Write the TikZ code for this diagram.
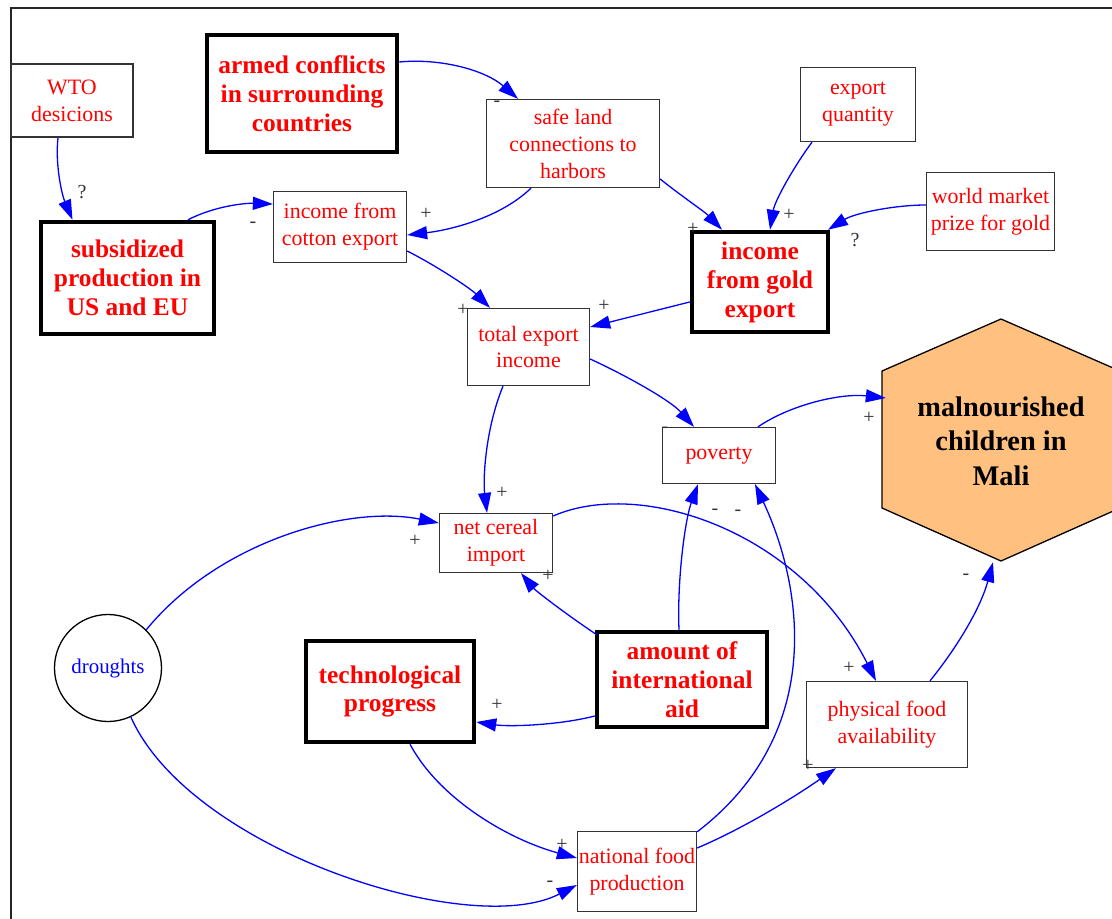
\documentclass[tikz,border=0pt]{standalone}
\usepackage{fontspec}
\setmainfont{Liberation Serif}
\usetikzlibrary{arrows.meta,calc}
\newcommand\regf{\fontsize{22}{27}\selectfont}
\newcommand\boldf{\bfseries\fontsize{25.5}{29}\selectfont}
\newcommand\malf{\bfseries\fontsize{28.5}{34.5}\selectfont}
\newcommand\labf{\fontsize{20}{22}\selectfont}
\definecolor{hexfill}{HTML}{FFC080}
\definecolor{edgeblue}{HTML}{0000FF}
\begin{document}
\begin{tikzpicture}[x=1bp,y=-1bp,
 box/.style={draw=black!80, line width=1.3bp, inner sep=0pt, align=center, text=red, font=\regf},
 bigbox/.style={box, draw=black, line width=4.5bp, font=\boldf},
 link/.style={draw=edgeblue, line width=1.3bp, -{Triangle[length=20bp,width=13bp]}},
 sign/.style={font=\labf, text=black!80, inner sep=0pt}]
\useasboundingbox (0,0) rectangle (1112,919);
% frame
\draw[line width=2bp, black!85] (11,930) -- (11,8) -- (1120,8);
% hexagon
\filldraw[fill=hexfill, draw=black, line width=1.3bp] (1001,319) -- (1120,371) -- (1120,508) -- (1001,561) -- (882,508) -- (882,371) -- cycle;
\node[font=\malf, align=center, minimum width=238bp, minimum height=242bp, inner sep=0pt] (mal) at (1001,441) {malnourished\\children in\\Mali};
% nodes
\node[box, minimum width=122bp, minimum height=73bp] (wto) at (72,100.5) {WTO\\desicions};
\node[bigbox, minimum width=190bp, minimum height=117bp] (armed) at (302,93.5) {armed conflicts\\in surrounding\\countries};
\node[bigbox, minimum width=173bp, minimum height=112bp] (subs) at (127.5,278) {subsidized\\production in\\US and EU};
\node[box, minimum width=133bp, minimum height=71bp] (cotton) at (340,227) {income from\\cotton export};
\node[box, minimum width=173bp, minimum height=88bp] (safe) at (573,143.5) {safe land\\connections to\\harbors};
\node[box, minimum width=115bp, minimum height=74bp] (expq) at (858,104.5) {export\\quantity};
\node[box, minimum width=128bp, minimum height=78bp] (world) at (990.5,211.5) {world market\\prize for gold};
\node[bigbox, minimum width=136bp, minimum height=100bp] (gold) at (760,282) {income\\from gold\\export};
\node[box, minimum width=122bp, minimum height=77bp] (total) at (528.5,347) {total export\\income};
\node[box, minimum width=113bp, minimum height=56bp] (pov) at (719,455.5) {poverty};
\node[box, minimum width=113bp, minimum height=59bp] (net) at (496,543) {net cereal\\import};
\node[draw=black, line width=1.3bp, circle, minimum size=107bp, inner sep=0pt, text=edgeblue, font=\fontsize{21}{25}\selectfont] (dr) at (108,668) {droughts};
\node[bigbox, minimum width=168bp, minimum height=101bp] (tech) at (390,691.5) {technological\\progress};
\node[bigbox, minimum width=170bp, minimum height=95bp] (aid) at (682,679.5) {amount of\\international\\aid};
\node[box, minimum width=161bp, minimum height=86bp] (phys) at (887,724.5) {physical food\\availability};
\node[box, minimum width=119bp, minimum height=80bp] (nat) at (637,871.5) {national food\\production};
% edges
\draw[link] ($(wto.south)+(-14,0)$) .. controls (55,165) and (62,195) .. ($(subs.north)+(-55,0)$);
\draw[link] ($(armed.east)+(0,-31.5)$) .. controls (440,58) and (485,70) .. ($(safe.north)+(-55,0)$);
\draw[link] ($(subs.north)+(60.5,0)$) .. controls (215,206) and (245,203) .. ($(cotton.west)+(0,-23)$);
\draw[link] ($(safe.south)+(-42,0)$) .. controls (500,218) and (450,230) .. ($(cotton.east)+(0,8)$);
\draw[link] ($(cotton.east)+(0,24)$) .. controls (435,265) and (470,288) .. ($(total.north)+(-38.5,0)$);
\draw[link] ($(safe.east)+(0,35.5)$) .. controls (680,195) and (705,212) .. ($(gold.north)+(-38,0)$);
\draw[link] ($(expq.south)+(-46,0)$) .. controls (795,165) and (775,200) .. ($(gold.north)+(10,0)$);
\draw[link] ($(world.west)+(0,-6.5)$) .. controls (895,205) and (855,213) .. ($(gold.north)+(68,0)$);
\draw[link] ($(gold.west)+(0,20)$) -- ($(total.east)+(0,-20)$);
\draw[link] ($(total.east)+(0,12)$) .. controls (625,375) and (670,400) .. ($(pov.north)+(-25,0)$);
\draw[link] ($(total.south)+(-25.5,0)$) .. controls (485,430) and (483,480) .. ($(net.north)+(-9,0)$);
\draw[link] ($(pov.north)+(39,0)$) .. controls (790,405) and (840,393) .. ($(mal.west)+(4,-43)$);
\draw[link] (dr.45) .. controls (220,540) and (350,505) .. ($(net.west)+(0,-20)$);
\draw[link] ($(net.east)+(0,-27)$) .. controls (640,478) and (800,530) .. ($(phys.north)+(-11,0)$);
\draw[link] ($(aid.north west)+(2,5)$) .. controls (560,610) and (535,590) .. ($(net.south)+(25,0)$);
\draw[link] ($(aid.north)+(-3,0)$) .. controls (677,580) and (685,520) .. ($(pov.south)+(-21,0)$);
\draw[link] ($(nat.north east)+(0,1)$) .. controls (830,730) and (800,580) .. ($(pov.south)+(36,0)$);
\draw[link] ($(aid.west)+(0,36.5)$) .. controls (560,725) and (510,727) .. ($(tech.east)+(0,30.5)$);
\draw[link] ($(tech.south)+(20,0)$) .. controls (440,800) and (510,840) .. ($(nat.west)+(0,-13.5)$);
\draw[link] (dr.-65) .. controls (190,850) and (470,940) .. ($(nat.west)+(0,13.5)$);
\draw[link] ($(nat.east)+(0,-23.5)$) .. controls (740,830) and (790,800) .. ($(phys.south)+(-51,0)$);
\draw[link] ($(phys.north)+(43,0)$) .. controls (955,650) and (980,610) .. ($(mal.south)+(-8,0)$);
% signs
\node[sign] (s1) at (82,192) {?};
\node[sign] (s2) at (497,104) {-};
\node[sign] (s3) at (253,225) {-};
\node[sign] (s4) at (426,214) {+};
\node[sign] (s5) at (463,310) {+};
\node[sign] (s6) at (693,229) {+};
\node[sign] (s7) at (789,215) {+};
\node[sign] (s8) at (855,240) {?};
\node[sign] (s9) at (604,306) {+};
\node[sign] (s10) at (665,430) {-};
\node[sign] (s11) at (502,493) {+};
\node[sign] (s12) at (869,418) {+};
\node[sign] (s13) at (415,541) {+};
\node[sign] (s14) at (849,668) {+};
\node[sign] (s15) at (548,576) {+};
\node[sign] (s16) at (715,512) {-};
\node[sign] (s17) at (738,513) {-};
\node[sign] (s18) at (497,705) {+};
\node[sign] (s19) at (562,845) {+};
\node[sign] (s20) at (550,884) {-};
\node[sign] (s21) at (808,766) {+};
\node[sign] (s22) at (966,577) {-};
\end{tikzpicture}
\end{document}
